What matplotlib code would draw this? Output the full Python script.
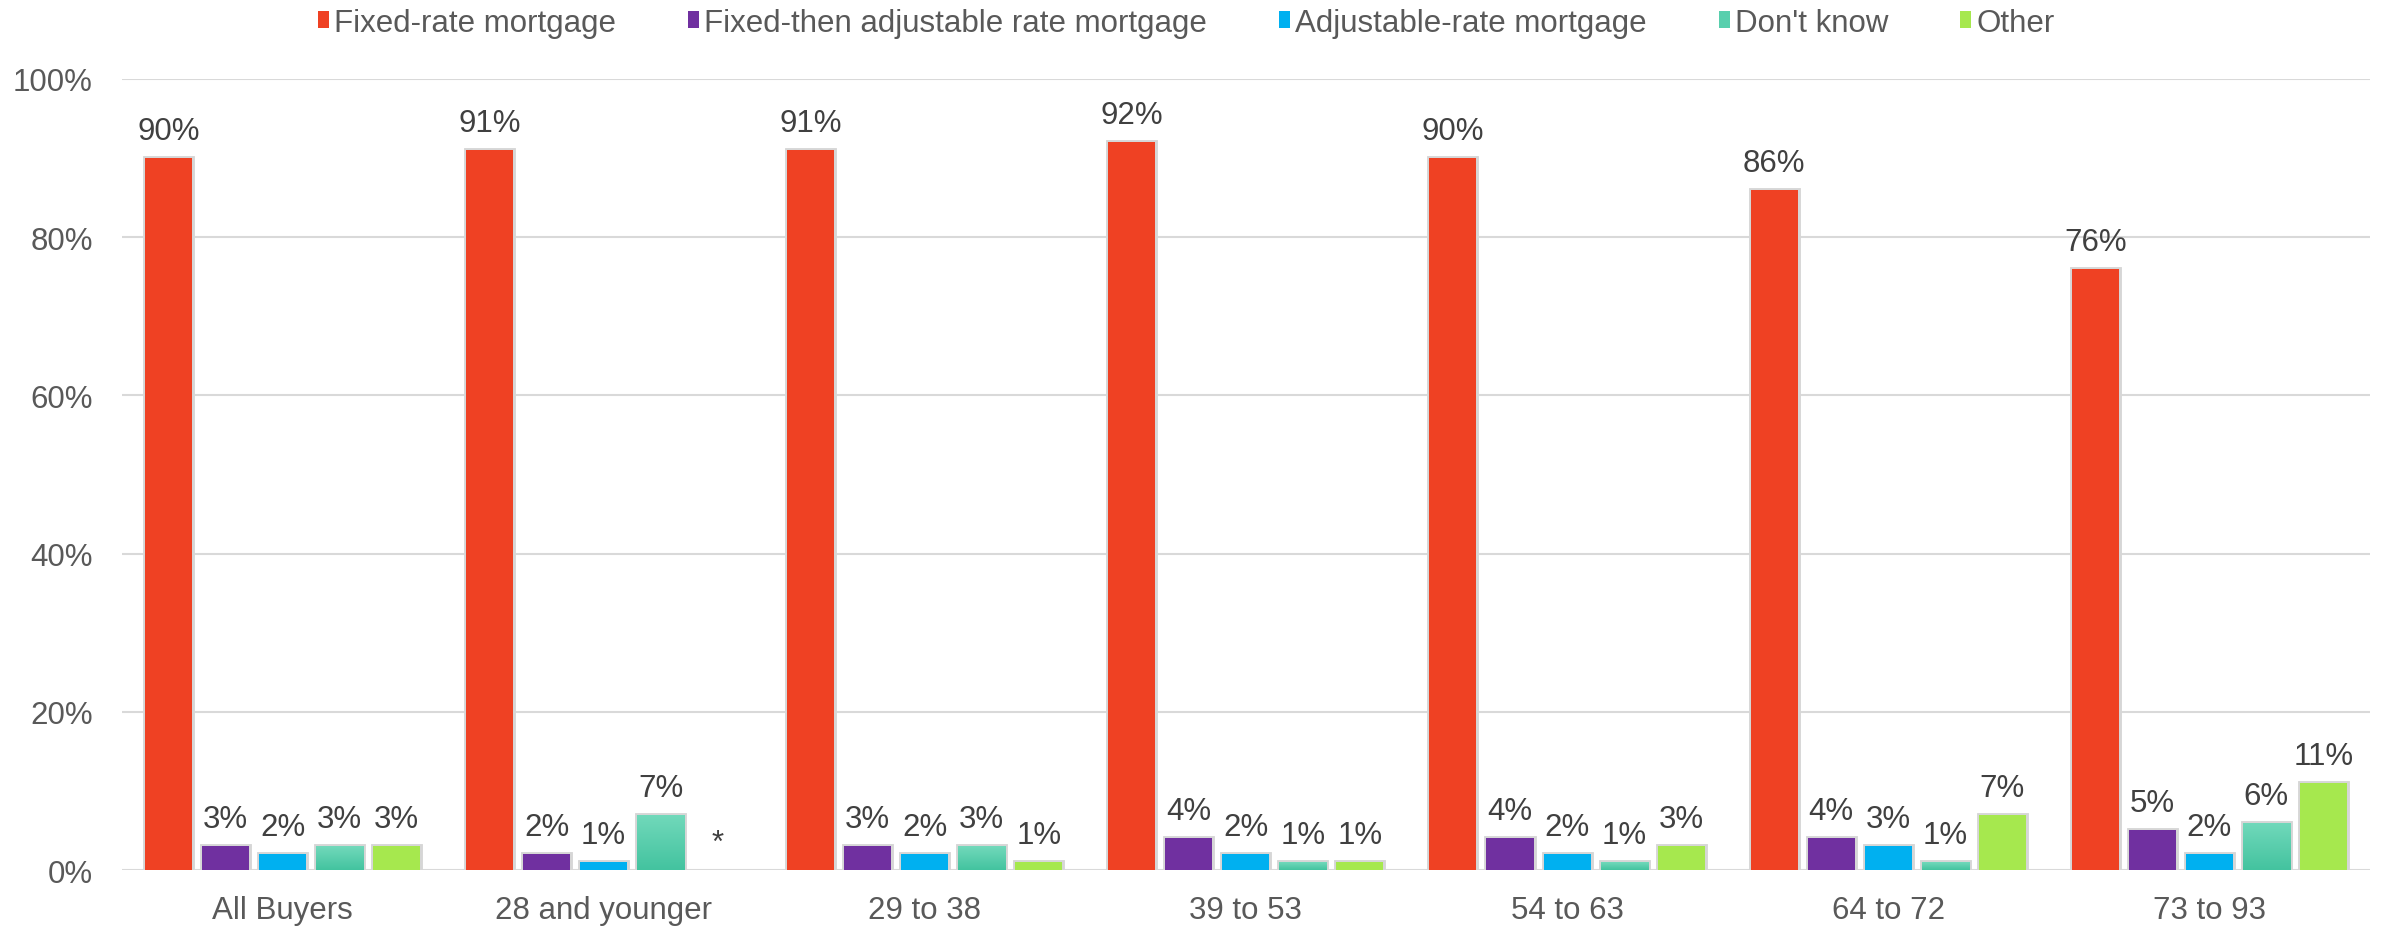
import numpy as np
import matplotlib
matplotlib.use('Agg')
import matplotlib.pyplot as plt
import matplotlib.patheffects as pe
from matplotlib.patches import Patch
from matplotlib.colors import LinearSegmentedColormap

plt.rcParams['font.family'] = ['Liberation Sans', 'DejaVu Sans']

categories = ['All Buyers', '28 and younger', '29 to 38', '39 to 53',
              '54 to 63', '64 to 72', '73 to 93']
series_names = ['Fixed-rate mortgage', 'Fixed-then adjustable rate mortgage',
                'Adjustable-rate mortgage', "Don't know", 'Other']
fixed_rate = [90, 91, 91, 92, 90, 86, 76]
fixed_then_adjustable = [3, 2, 3, 4, 4, 4, 5]
adjustable_rate = [2, 1, 2, 2, 2, 3, 2]
dont_know = [3, 7, 3, 1, 1, 1, 6]
other = [3, np.nan, 1, 1, 3, 7, 11]   # nan = less than 1% (shown as *)
yticks = [0, 20, 40, 60, 80, 100]

series = [fixed_rate, fixed_then_adjustable, adjustable_rate, dont_know, other]
colors = ['#EF4123', '#7030A0', '#00B0F0', '#58CFAD', '#A6E84E']
teal_top, teal_bottom = '#72D9BB', '#43C39F'

label_color = '#404040'
axis_color = '#595959'
fs = 22.5

fig = plt.figure(figsize=(23.82, 9.29), dpi=100)
ax = fig.add_axes([0.0512, 0.0624, 0.9437, 0.8515])

x = np.arange(len(categories))
step = 0.1776
width = 0.1464
shadow = [pe.withStroke(linewidth=3.5, foreground='#d6d6d6')]
cmap = LinearSegmentedColormap.from_list('teal', [teal_top, teal_bottom])
grad = np.linspace(0, 1, 256).reshape(-1, 1)

for i, (vals, col) in enumerate(zip(series, colors)):
    v = np.array(vals, dtype=float)
    h = np.nan_to_num(v, nan=0.0)
    pos = x + (i - 2) * step
    bars = ax.bar(pos, h, width=width, color=col, linewidth=0, zorder=3)
    for b, val, hh in zip(bars, v, h):
        if hh > 0:
            b.set_path_effects(shadow)
        if i == 3 and hh > 0:
            x0 = b.get_x()
            im = ax.imshow(grad, extent=[x0, x0 + width, 0, hh], aspect='auto',
                           cmap=cmap, zorder=3.5, interpolation='bilinear')
            im.set_clip_path(b)
        lab = '*' if np.isnan(val) else f'{int(val)}%'
        ax.annotate(lab, (b.get_x() + width / 2, hh), xytext=(0, 13.7),
                    textcoords='offset points', ha='center', va='baseline',
                    fontsize=fs, color=label_color, zorder=5)

ax.set_xlim(-0.5, len(categories) - 0.5)
ax.set_ylim(0, 100)
ax.set_xticks(x)
ax.set_xticklabels(categories)
ax.set_yticks(yticks)
ax.set_yticklabels([f'{t}%' for t in yticks])
ax.tick_params(axis='both', length=0, labelsize=fs, labelcolor=axis_color)
ax.tick_params(axis='x', pad=18)
ax.tick_params(axis='y', pad=21)
for s in ax.spines.values():
    s.set_visible(False)
ax.yaxis.grid(True, color='#d9d9d9', linewidth=1.5, zorder=0)
ax.set_axisbelow(True)

handles = [Patch(facecolor=c, edgecolor='none') for c in colors]
fig.legend(handles, series_names, loc='center', bbox_to_anchor=(0.498, 1 - 24 / 929),
           ncol=5, frameon=False, fontsize=fs, labelcolor=axis_color,
           handlelength=0.36, handleheight=0.45, handletextpad=0.16,
           columnspacing=2.3, borderpad=0, borderaxespad=0)

fig.savefig('out.png', dpi=100)
